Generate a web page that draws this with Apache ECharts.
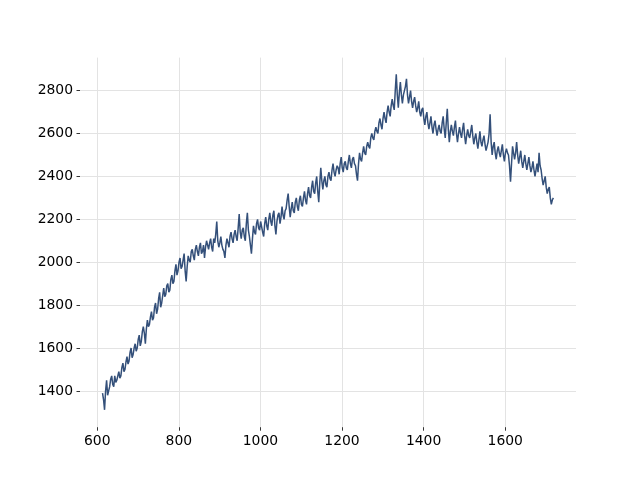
<!DOCTYPE html>
<html>
<head>
<meta charset="utf-8">
<script src="https://cdn.jsdelivr.net/npm/echarts@6/dist/echarts.min.js"></script>
<style>html,body{margin:0;padding:0;background:#fff}#c{width:640px;height:480px}</style>
</head>
<body>
<div id="c"></div>
<script>
// sample positions (x)
const xValues = [
  613,618,623,628,633,638,643,648,653,658,
  663,668,673,678,683,688,693,698,703,708,
  713,718,723,728,733,738,743,748,753,758,
  763,768,773,778,783,788,793,798,803,808,
  813,818,823,828,833,838,843,848,853,858,
  863,868,873,878,883,888,893,898,903,908,
  913,918,923,928,933,938,943,948,953,958,
  963,968,973,978,983,988,993,998,1003,1008,
  1013,1018,1023,1028,1033,1038,1043,1048,1053,1058,
  1063,1068,1073,1078,1083,1088,1093,1098,1103,1108,
  1113,1118,1123,1128,1133,1138,1143,1148,1153,1158,
  1163,1168,1173,1178,1183,1188,1193,1198,1203,1208,
  1213,1218,1223,1228,1233,1238,1243,1248,1253,1258,
  1263,1268,1273,1278,1283,1288,1293,1298,1303,1308,
  1313,1318,1323,1328,1333,1338,1343,1348,1353,1358,
  1363,1368,1373,1378,1383,1388,1393,1398,1403,1408,
  1413,1418,1423,1428,1433,1438,1443,1448,1453,1458,
  1463,1468,1473,1478,1483,1488,1493,1498,1503,1508,
  1513,1518,1523,1528,1533,1538,1543,1548,1553,1558,
  1563,1568,1573,1578,1583,1588,1593,1598,1603,1608,
  1613,1618,1623,1628,1633,1638,1643,1648,1653,1658,
  1663,1668,1673,1678,1683,1688,1693,1698,1703,1708,1713,1718
];
// series values at the sample positions
const yValues = [
  1390,1312,1450,1400,1455,1430,1470,1450,1490,1470,
  1530,1500,1560,1540,1600,1570,1620,1600,1660,1630,
  1700,1620,1730,1710,1770,1740,1810,1780,1860,1810,
  1880,1850,1900,1870,1940,1910,1990,1960,2020,1980,
  2040,1910,2030,2000,2060,2010,2080,2030,2090,2050,
  2020,2100,2060,2110,2050,2090,2190,2070,2120,2060,
  2020,2110,2070,2140,2090,2150,2100,2225,2110,2160,
  2100,2230,2120,2040,2170,2130,2200,2150,2190,2120,
  2210,2150,2230,2170,2240,2130,2220,2180,2260,2200,
  2250,2320,2210,2280,2230,2300,2240,2310,2260,2330,
  2270,2350,2300,2380,2320,2400,2280,2440,2340,2400,
  2350,2420,2380,2460,2400,2450,2410,2490,2420,2470,
  2430,2500,2440,2490,2450,2380,2510,2470,2540,2500,
  2560,2530,2600,2570,2630,2600,2670,2620,2700,2650,
  2730,2680,2760,2710,2876,2720,2840,2740,2800,2855,
  2740,2800,2720,2770,2700,2750,2680,2720,2640,2700,
  2620,2680,2600,2660,2590,2640,2600,2680,2580,2715,
  2560,2640,2590,2660,2560,2630,2580,2650,2550,2620,
  2580,2640,2550,2600,2530,2610,2540,2590,2520,2560,
  2690,2500,2560,2480,2540,2490,2550,2470,2530,2500,
  2375,2540,2480,2560,2460,2520,2440,2500,2430,2490,
  2420,2470,2400,2460,2510,2430,2360,2400,2320,2350,2270,2300
];
// series values read halfway between consecutive sample positions
const yMidValues = [
  1360,1400,1380,1420,1470,1420,1440,1470,1460,1510,
  1490,1535,1525,1580,1555,1600,1585,1640,1610,1675,
  1670,1690,1700,1745,1730,1790,1760,1830,1790,1845,
  1840,1890,1860,1920,1900,1960,1940,2000,1970,2010,
  1960,1980,2010,2050,2030,2060,2050,2070,2040,2080,
  2070,2080,2090,2070,2110,2130,2100,2090,2080,2050,
  2080,2090,2120,2110,2130,2120,2160,2140,2150,2120,
  2180,2150,2080,2110,2140,2180,2160,2190,2140,2180,
  2170,2200,2190,2220,2170,2190,2230,2210,2220,2240,
  2290,2260,2250,2240,2280,2260,2290,2270,2300,2290,
  2320,2310,2350,2330,2370,2330,2370,2380,2380,2360,
  2400,2390,2430,2420,2430,2440,2460,2440,2460,2440,
  2470,2460,2480,2460,2410,2460,2480,2510,2510,2540,
  2540,2580,2580,2610,2610,2650,2640,2670,2670,2700,
  2700,2730,2730,2800,2780,2790,2780,2780,2820,2780,
  2770,2750,2750,2730,2720,2700,2710,2670,2680,2650,
  2650,2630,2640,2620,2620,2610,2650,2620,2650,2620,
  2610,2610,2630,2600,2600,2600,2620,2590,2590,2590,
  2610,2590,2580,2560,2570,2560,2570,2550,2540,2600,
  2560,2540,2510,2520,2510,2520,2500,2510,2510,2450,
  2460,2510,2510,2500,2490,2470,2470,2460,2460,2450,
  2440,2430,2430,2420,2450,2390,2380,2350,2340,2300,2290
];
const xTicks = [600, 800, 1000, 1200, 1400, 1600];
const yTicks = [1400, 1600, 1800, 2000, 2200, 2400, 2600, 2800];

const points = [];
xValues.forEach((x, i) => {
  points.push([x, yValues[i]]);
  if (i < yMidValues.length) points.push([(x + xValues[i + 1]) / 2, yMidValues[i]]);
});

const chart = echarts.init(document.getElementById('c'), null, {renderer: 'canvas'});
const font = '"DejaVu Sans", sans-serif';
const gridLine = {show: true, lineStyle: {color: '#e3e3e3', width: 1}};
const plain = v => String(v);
chart.setOption({
  animation: false,
  backgroundColor: '#ffffff',
  grid: {left: 80, right: 64, top: 57.6, bottom: 52.8, containLabel: false},
  xAxis: {
    type: 'value', min: 557.8, max: 1773.5,
    axisLine: {show: false},
    axisTick: {show: true, customValues: xTicks, length: 3.5, lineStyle: {color: '#000', width: 0.8}},
    axisLabel: {customValues: xTicks, formatter: plain, margin: 7, color: '#000', fontSize: 13.9, fontFamily: font},
    splitLine: gridLine
  },
  yAxis: {
    type: 'value', min: 1231, max: 2954,
    axisLine: {show: false},
    axisTick: {show: true, customValues: yTicks, length: 3.5, lineStyle: {color: '#000', width: 0.8}},
    axisLabel: {customValues: yTicks, formatter: plain, margin: 7, color: '#000', fontSize: 13.9, fontFamily: font},
    splitLine: gridLine
  },
  series: [{
    type: 'line',
    data: points,
    showSymbol: false,
    symbol: 'none',
    lineStyle: {color: '#34507a', width: 1.5},
    z: 3
  }]
});
</script>
</body>
</html>
